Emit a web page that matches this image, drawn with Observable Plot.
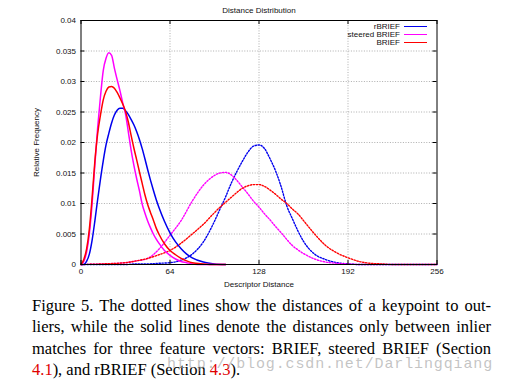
<!DOCTYPE html>
<html>
<head>
<meta charset="utf-8">
<script src="https://cdn.jsdelivr.net/npm/d3@7"></script>
<script src="https://cdn.jsdelivr.net/npm/@observablehq/plot@0.6"></script>
<style>
  html, body { margin: 0; padding: 0; background: white; }
  #wrap { position: relative; width: 506px; height: 383px; overflow: hidden; background: white; }
  #chart { position: absolute; left: 0; top: 0; }
  .leg { position: absolute; font: 8px "Liberation Sans", Arial, sans-serif; color: #111; }
  .legtxt { position: absolute; right: 106px; white-space: nowrap; line-height: 8px; }
  .legline { position: absolute; left: 404px; width: 23px; height: 0; border-top: 1.6px solid; }
  #caption { position: absolute; left: 32px; top: 294.5px; width: 459px; font: 16.5px "Liberation Serif", "Times New Roman", serif; line-height: 21.5px; color: #000; }
  #caption .j { text-align: justify; text-align-last: justify; white-space: nowrap; }
  #caption .r { color: #e00000; }
  #wm { position: absolute; left: 167px; top: 357px; font: 15px "Liberation Mono", monospace; line-height: 15px; letter-spacing: 0.88px; color: rgba(170,170,170,0.7); white-space: nowrap; }
</style>
</head>
<body>
<div id="wrap">
  <div id="chart"></div>
  <div id="legend"></div>
  <div id="caption">
    <div class="j">Figure 5. The dotted lines show the distances of a keypoint to out-</div>
    <div class="j">liers, while the solid lines denote the distances only between inlier</div>
    <div class="j">matches for three feature vectors: BRIEF, steered BRIEF (Section</div>
    <div><span class="r">4.1</span>), and rBRIEF (Section <span class="r">4.3</span>).</div>
  </div>
  <div id="wm">http://blog.csdn.net/Darlingqiang</div>
</div>
<script>
// ---- data ----
const xTicks = [0, 64, 128, 192, 256];
const yTicks = [0, 0.005, 0.01, 0.015, 0.02, 0.025, 0.03, 0.035, 0.04];
const yTickLabels = ["0", "0.005", "0.01", "0.015", "0.02", "0.025", "0.03", "0.035", "0.04"];

const seriesNames = ["rBRIEF", "steered BRIEF", "BRIEF"];
const seriesColors = ["#0000ee", "#ff00ff", "#ff0000"];

// inlier distances (solid lines)
const inlierX = [0,2,4,6,8,10,12,14,16,18,20,22,24,26,28,30,32,34,36,38,40,42,44,46,48,50,52,54,56,60,64,68,72,76,80,88,96,104];
const rbriefInlier  = [0,0,0.0005,0.0017,0.004,0.0072,0.0107,0.014,0.017,0.0196,0.0215,0.0232,0.0245,0.0253,0.0256,0.0256,0.0252,0.0246,0.0238,0.0229,0.0218,0.0205,0.019,0.0173,0.0155,0.0138,0.0122,0.0107,0.0094,0.0071,0.0052,0.0037,0.0026,0.0017,0.0011,0.0004,0.0001,0];
const steeredInlier = [0,0.0005,0.002,0.005,0.01,0.0165,0.0225,0.0275,0.0318,0.0338,0.0347,0.0343,0.0322,0.0303,0.0285,0.0265,0.0247,0.0218,0.0188,0.0163,0.0141,0.0121,0.0099,0.0084,0.0071,0.006,0.005,0.0042,0.0035,0.0023,0.0015,0.0009,0.0005,0.0003,0.0001,0,0,0];
const briefInlier   = [0,0.0008,0.0025,0.0058,0.011,0.017,0.0215,0.0245,0.027,0.0284,0.0291,0.0292,0.0289,0.0282,0.0273,0.0263,0.0251,0.0234,0.0212,0.0191,0.0172,0.0152,0.0133,0.0114,0.0098,0.0085,0.0073,0.006,0.005,0.0034,0.0023,0.0016,0.001,0.0006,0.0003,0.0001,0,0];

// outlier distances (dotted lines)
const outlierX = [0,16,32,40,48,56,64,72,80,88,96,100,104,108,112,116,120,124,128,132,136,140,144,148,152,156,160,168,176,184,192,200,208,216,224,240,256];
const rbriefOutlier  = [0,0,0,0.0001,0.0001,0.0002,0.0003,0.0007,0.0017,0.0037,0.0071,0.0091,0.0111,0.0133,0.0152,0.0169,0.0184,0.0194,0.0196,0.019,0.0173,0.0153,0.0127,0.0096,0.0075,0.0055,0.0038,0.0017,0.0008,0.0003,0.0001,0,0,0,0,0,0];
const steeredOutlier = [0,0.0001,0.0003,0.0006,0.001,0.0025,0.0048,0.0072,0.0104,0.013,0.0146,0.015,0.0151,0.0147,0.0138,0.0127,0.0116,0.0104,0.0094,0.0083,0.0073,0.0062,0.0052,0.0041,0.0031,0.0024,0.0018,0.0009,0.0004,0.0002,0.0001,0,0,0,0,0,0];
const briefOutlier   = [0,0.0001,0.0003,0.0006,0.001,0.0016,0.0023,0.0035,0.005,0.0066,0.0085,0.0094,0.0102,0.011,0.0118,0.0125,0.0129,0.0131,0.0131,0.0128,0.0122,0.0115,0.0107,0.01,0.0091,0.0083,0.0072,0.005,0.0031,0.0019,0.0011,0.0005,0.0002,0.0001,0,0,0];

// ---- build tables ----
const toRows = (xs, ys) => xs.map((x, i) => ({x, y: ys[i]}));
const solid = [rbriefInlier, steeredInlier, briefInlier].map(ys => toRows(inlierX, ys));
const dotted = [rbriefOutlier, steeredOutlier, briefOutlier].map(ys => toRows(outlierX, ys));

const W = 506, H = 290, mL = 80.5, mR = 69.5, mT = 20, mB = 26;
const plotH = H - mT - mB, plotW = W - mL - mR;
const tickLen = 4;

const lineMarks = [];
dotted.forEach((rows, i) => lineMarks.push(Plot.line(rows, {x: "x", y: "y", stroke: seriesColors[i], strokeWidth: 1.4, strokeDasharray: "1.4,1.6", curve: "monotone-x"})));
solid.forEach((rows, i) => lineMarks.push(Plot.line(rows, {x: "x", y: "y", stroke: seriesColors[i], strokeWidth: 1.5, curve: "monotone-x"})));

const chart = Plot.plot({
  width: W, height: H,
  marginLeft: mL, marginRight: mR, marginTop: mT, marginBottom: mB,
  x: {domain: [0, 256]},
  y: {domain: [0, 0.04]},
  style: {fontFamily: "'Liberation Sans', Arial, sans-serif", fontSize: "8px", color: "#111", background: "white", overflow: "visible"},
  marks: [
    Plot.gridX(xTicks.slice(1, -1), {stroke: "#999", strokeOpacity: 1, strokeWidth: 0.8, strokeDasharray: "1,1.6"}),
    Plot.gridY(yTicks.slice(1, -1), {stroke: "#999", strokeOpacity: 1, strokeWidth: 0.8, strokeDasharray: "1,1.6"}),
    ...lineMarks,
    Plot.frame({stroke: "#000", strokeWidth: 1}),
    Plot.tickX(xTicks, {x: d => d, stroke: "#000", insetTop: plotH - tickLen}),
    Plot.tickX(xTicks, {x: d => d, stroke: "#000", insetBottom: plotH - tickLen}),
    Plot.tickY(yTicks, {y: d => d, stroke: "#000", insetRight: plotW - tickLen}),
    Plot.tickY(yTicks, {y: d => d, stroke: "#000", insetLeft: plotW - tickLen}),
    Plot.axisX(xTicks, {tickSize: 0, tickPadding: 4, label: "Descriptor Distance", labelAnchor: "center", labelArrow: "none", labelOffset: 22}),
    Plot.axisY(yTicks, {tickSize: 0, tickPadding: 5, tickFormat: (d, i) => yTickLabels[i], label: "Relative Frequency", labelAnchor: "center", labelArrow: "none", labelOffset: 48}),
    Plot.text(["Distance Distribution"], {text: d => d, frameAnchor: "top", dy: -13, fill: "#111"})
  ]
});
document.getElementById("chart").appendChild(chart);

// legend (top-right, gnuplot style)
const legend = document.getElementById("legend");
const rowY = [27, 35, 43];
seriesNames.forEach((name, i) => {
  const t = document.createElement("div");
  t.className = "leg legtxt";
  t.style.top = (rowY[i] - 4) + "px";
  t.textContent = name;
  legend.appendChild(t);
  const l = document.createElement("div");
  l.className = "leg legline";
  l.style.top = (rowY[i] - 0.8) + "px";
  l.style.borderTopColor = seriesColors[i];
  legend.appendChild(l);
});
</script>
</body>
</html>
